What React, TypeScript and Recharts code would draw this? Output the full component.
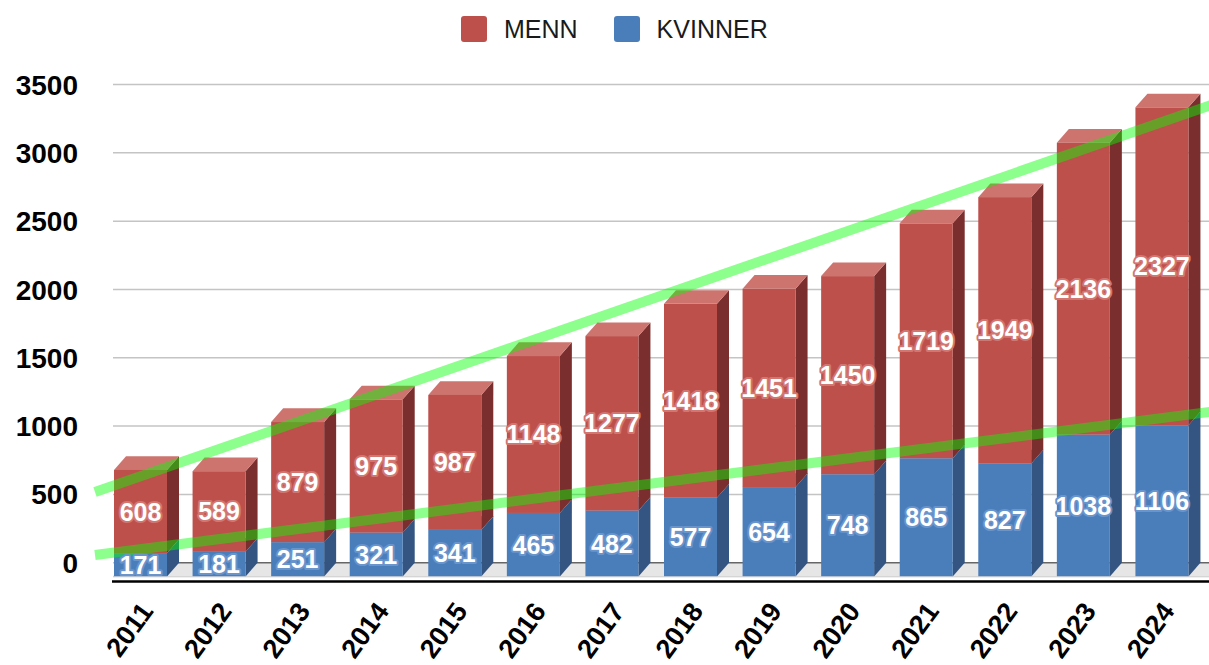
import React from 'react';
import { ComposedChart, Bar, Line, XAxis, YAxis, CartesianGrid, Legend, ReferenceArea } from 'recharts';

const years = ['2011', '2012', '2013', '2014', '2015', '2016', '2017', '2018', '2019', '2020', '2021', '2022', '2023', '2024'];
const menn = [608, 589, 879, 975, 987, 1148, 1277, 1418, 1451, 1450, 1719, 1949, 2136, 2327];
const kvinner = [171, 181, 251, 321, 341, 465, 482, 577, 654, 748, 865, 827, 1038, 1106];
const yTicks = [0, 500, 1000, 1500, 2000, 2500, 3000, 3500];

// trend lines, read at the left and right edge of the plot
const trendT = [0, 1];
const trendTotal = [517, 3355];
const trendKvinner = [56, 1107];

const data = years.map((year, i) => ({ year, menn: menn[i], kvinner: kvinner[i] }));
const trendTotalData = trendT.map((t, i) => ({ t, v: trendTotal[i] }));
const trendKvinnerData = trendT.map((t, i) => ({ t, v: trendKvinner[i] }));

const FONT = '"Liberation Sans", Arial, sans-serif';
const DX = 12;
const DY = 13.7;

const RED = { front: '#be504b', top: '#cd746f', side: '#7a2f2e', halo: '#d27672' };
const BLUE = { front: '#4a7ebb', top: '#7aa0d0', side: '#345582', halo: '#6994cc' };

const box = (c: typeof RED) => (props: any) => {
  const { x, y, width, height } = props;
  if (!height || height <= 0) return <g />;
  const fx = x - DX;
  const fy = y + DY;
  return (
    <g>
      <polygon points={`${x + width},${y} ${x + width},${y + height} ${fx + width},${fy + height} ${fx + width},${fy}`} fill={c.side} />
      <polygon points={`${x},${y} ${x + width},${y} ${fx + width},${fy} ${fx},${fy}`} fill={c.top} />
      <rect x={fx} y={fy} width={width} height={height} fill={c.front} />
    </g>
  );
};

const barLabel = (c: typeof RED, values: number[]) => (props: any) => {
  const vb = props.viewBox || props;
  const x = vb.x ?? props.x;
  const y = vb.y ?? props.y;
  const width = vb.width ?? props.width;
  const height = vb.height ?? props.height;
  return (
    <text
      x={x - DX + width / 2}
      y={y + DY + height / 2}
      dy="0.36em"
      textAnchor="middle"
      fill="#fff"
      stroke={c.halo}
      strokeWidth={4}
      strokeLinejoin="round"
      paintOrder="stroke"
      fontSize={25}
      fontWeight="bold"
      fontFamily={FONT}
    >
      {values[props.index]}
    </text>
  );
};

const Floor = (props: any) => {
  const { x, y, width, height } = props;
  return (
    <g>
      <polygon points={`${x + 18},${y} ${x + width + 20},${y} ${x + width + 20},${y + height} ${x},${y + height}`} fill="#e6e6e6" />
      <line x1={x + 18} x2={x + width + 20} y1={y} y2={y} stroke="#666" strokeWidth={1.5} />
      <line x1={x - 1} x2={x + width + 20} y1={y + height + 5} y2={y + height + 5} stroke="#000" strokeWidth={2.5} />
    </g>
  );
};

const GridLine = (p: any) => (
  <line key={p.key} x1={p.x1 + 18} x2={p.x2} y1={p.y1} y2={p.y2} stroke="#c4c4c4" strokeWidth={1.5} />
);

const YTick = ({ x, y, payload }: any) => (
  <text x={x} y={y} dy="0.36em" textAnchor="end" fontSize={28} fontWeight="bold" fontFamily={FONT} fill="#000">
    {payload.value}
  </text>
);

const XTick = ({ x, y, payload }: any) => {
  const ax = x + 2;
  const ay = y + 35;
  return (
    <text x={ax} y={ay} transform={`rotate(-54, ${ax}, ${ay})`} textAnchor="end" fontSize={27} fontWeight="bold" fontFamily={FONT} fill="#000">
      {payload.value}
    </text>
  );
};

const legendItems = [
  { name: 'MENN', color: RED.front },
  { name: 'KVINNER', color: BLUE.front },
];

const LegendBox = () => (
  <div style={{ height: 58, display: 'flex', alignItems: 'flex-start', paddingLeft: 461, boxSizing: 'border-box', fontFamily: FONT }}>
    {legendItems.map((it, i) => (
      <div key={it.name} style={{ display: 'flex', alignItems: 'center', marginTop: 16, marginLeft: i ? 36 : 0 }}>
        <div style={{ width: 26, height: 26, borderRadius: 3, background: it.color }} />
        <span style={{ marginLeft: 17, fontSize: 25, color: '#1a1a1a', lineHeight: '26px' }}>{it.name}</span>
      </div>
    ))}
  </div>
);

export default function App() {
  return (
    <div style={{ position: 'fixed', left: 0, top: 0, width: 1209, height: 665, overflow: 'hidden', background: '#fff' }}>
      <ComposedChart width={1213} height={665} data={data} margin={{ top: 26.5, right: 0, bottom: 0, left: 0 }}>
        <Legend verticalAlign="top" content={LegendBox} wrapperStyle={{ left: 0, top: 0, width: 1213 }} />
        <CartesianGrid vertical={false} horizontal={GridLine} />
        <XAxis
          dataKey="year"
          interval={0}
          height={88.6}
          padding={{ left: 18, right: 0 }}
          axisLine={false}
          tickLine={false}
          tickSize={0}
          tickMargin={0}
          tick={XTick}
        />
        <XAxis xAxisId="trend" type="number" dataKey="t" domain={[0, 1]} hide />
        <YAxis
          domain={[-100, 3500]}
          ticks={yTicks}
          allowDataOverflow
          width={95}
          axisLine={false}
          tickLine={false}
          tickSize={0}
          tickMargin={17}
          tick={YTick}
        />
        <ReferenceArea y1={-100} y2={0} ifOverflow="visible" shape={Floor} />
        <Bar dataKey="kvinner" name="KVINNER" stackId="a" barSize={53} shape={box(BLUE)} label={barLabel(BLUE, kvinner)} isAnimationActive={false} />
        <Bar dataKey="menn" name="MENN" stackId="a" barSize={53} shape={box(RED)} label={barLabel(RED, menn)} isAnimationActive={false} />
        <Line data={trendTotalData} xAxisId="trend" dataKey="v" stroke="#00ff00" strokeOpacity={0.45} strokeWidth={10} dot={false} activeDot={false} legendType="none" isAnimationActive={false} />
        <Line data={trendKvinnerData} xAxisId="trend" dataKey="v" stroke="#00ff00" strokeOpacity={0.45} strokeWidth={10} dot={false} activeDot={false} legendType="none" isAnimationActive={false} />
      </ComposedChart>
    </div>
  );
}
